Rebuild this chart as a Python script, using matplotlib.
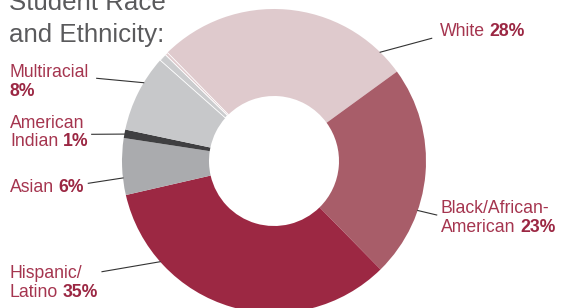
import numpy as np
import matplotlib.pyplot as plt

plt.rcParams['font.family'] = ['Liberation Sans', 'DejaVu Sans']

# wedge shares as measured off the ring, in drawing order (clockwise from upper left)
groups = ["White", "Black/African-American", "Hispanic/Latino", "Asian",
          "American Indian", "Multiracial", "Other", "Unknown"]
shares = [27.3, 22.6, 33.7, 6.0, 0.9, 8.2, 0.8, 0.3]
colors = ["#dfcacd", "#a85d69", "#9c2843", "#aaabae",
          "#3f3f41", "#c7c8ca", "#cbccce", "#dfcacd"]

# label text: regular part (lines), bold percentage
label_names = ["White", "Black/African-\nAmerican", "Hispanic/\nLatino",
               "Asian", "American\nIndian", "Multiracial\n"]
label_pcts = ["28%", "23%", "35%", "6%", "1%", "8%"]

W, H = 561, 308
fig = plt.figure(figsize=(W / 100, H / 100), dpi=100)
ax = fig.add_axes([0, 0, 1, 1])

cx, cy, R, r_in = 274, H - 161, 152, 65
wedges, _ = ax.pie(shares, colors=colors, startangle=134.5, counterclock=False,
                   radius=R, center=(cx, cy), frame=True,
                   wedgeprops=dict(width=R - r_in, linewidth=0))
# the two slivers are set off by thin white seams
for w in wedges[-2:]:
    w.set_edgecolor('white')
    w.set_linewidth(0.6)
ax.set_xlim(0, W)
ax.set_ylim(0, H)
ax.set_aspect('equal')
ax.axis('off')

name_col = '#a5354f'
pct_col = '#9b2743'
fs = 12.7

# title, partly cut off at the top like the original
ax.text(9, H - 10, "Student Race", fontsize=18.6, color='#5a5a5c', va='baseline')
ax.text(9, H - 41.7, "and Ethnicity:", fontsize=18.6, color='#5a5a5c', va='baseline')

# label layout: left x, first baseline (px from top), rim angle, line start
layout = [
    (440, 36, 45.7, (431.7, 38.3)),
    (441, 213.3, -19, (436.7, 215)),
    (10, 278.3, 221.5, (102, 271.7)),
    (10, 191.7, 186.4, (88.3, 183.3)),
    (10, 128, 169.8, (91.7, 134.3)),
    (10, 77, 149, (96.7, 78.3)),
]

for name, pct, (x, base, ang, start) in zip(label_names, label_pcts, layout):
    lines = name.split("\n")
    for i, ln in enumerate(lines):
        y = H - (base + i * 18.5)
        last = i == len(lines) - 1
        if ln:
            t = ax.text(x, y, ln, fontsize=fs, color=name_col, va='baseline')
            if last:
                ax.annotate(pct, xy=(1, 0), xycoords=t, xytext=(3.3, 0),
                            textcoords='offset points', fontsize=fs,
                            fontweight='bold', color=pct_col, va='bottom')
        elif last:
            ax.text(x, y, pct, fontsize=fs, fontweight='bold', color=pct_col,
                    va='baseline')
    a = np.deg2rad(ang)
    ax.plot([start[0], cx + R * np.cos(a)], [H - start[1], cy + R * np.sin(a)],
            color='#333333', lw=0.8)

fig.savefig('out.png', dpi=100)
